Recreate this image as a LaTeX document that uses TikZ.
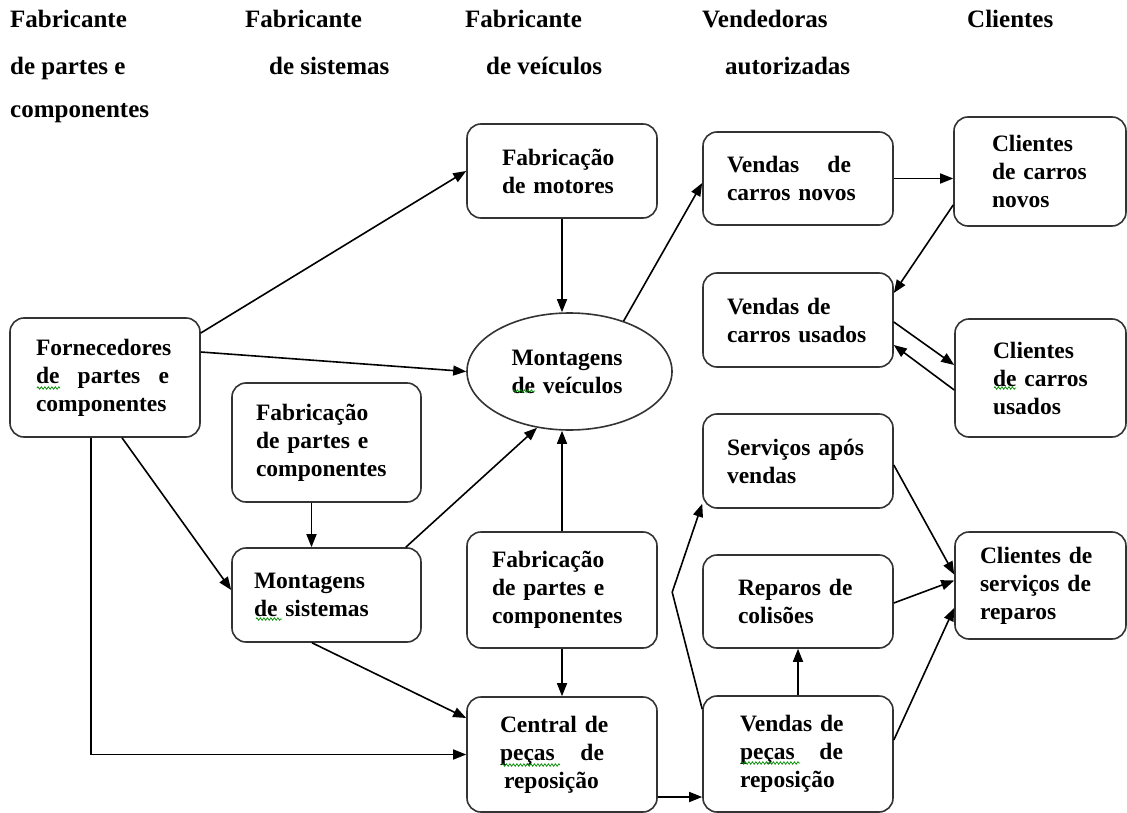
\documentclass[tikz,border=0pt]{standalone}
\usepackage{fontspec}
\setmainfont{Liberation Serif}
\usetikzlibrary{arrows.meta,calc,shapes.geometric,decorations.pathmorphing}

\tikzset{
  box/.style={draw=black!80, line width=1.6pt, rounded corners=14pt,
    minimum width=190pt, align=left, inner sep=0pt,
    font=\bfseries\fontsize{23.5}{28}\selectfont},
  oval/.style={draw=black!80, line width=1.6pt, ellipse,
    minimum width=205pt, minimum height=117pt, align=left, inner sep=0pt,
    font=\bfseries\fontsize{23.5}{28}\selectfont},
  head/.style={anchor=base west, inner sep=0pt,
    font=\bfseries\fontsize{25}{30}\selectfont},
  link/.style={line width=1.6pt, -{Triangle[length=13pt,width=10pt]}},
  squiggle/.style={draw=green!55!black, line width=0.7pt,
    decorate, decoration={zigzag, amplitude=1.3pt, segment length=3.5pt}},
}

\begin{document}
\begin{tikzpicture}[x=1pt,y=-1pt]
\useasboundingbox (0,0) rectangle (1127,813);

% column headings
\node[head] (h1a) at (10,28)  {Fabricante};
\node[head] (h1b) at (10,75)  {de partes e};
\node[head] (h1c) at (10,118) {componentes};
\node[head] (h2a) at (245,28) {Fabricante};
\node[head] (h2b) at (269,75) {de sistemas};
\node[head] (h3a) at (465,28) {Fabricante};
\node[head] (h3b) at (486,75) {de veículos};
\node[head] (h4a) at (702,28) {Vendedoras};
\node[head] (h4b) at (725,75) {autorizadas};
\node[head] (h5a) at (967,28) {Clientes};

% parts and systems suppliers
\node[box, minimum height=119pt, text width=138pt] (forn) at (105,377.5)
  {Fornecedores\\ \makebox[133pt][s]{de\hfill partes\hfill e}\\ componentes};
\node[box, minimum width=189pt, minimum height=119pt, text width=141pt] (fabL) at (326.5,442.5)
  {Fabricação\\ de partes e\\ componentes};
\node[box, minimum width=189pt, minimum height=94pt, text width=145pt] (monS) at (326.5,595)
  {Montagens\\ de sistemas};

% vehicle manufacturer
\node[box, minimum height=94pt, text width=120pt] (fabM) at (562,171)
  {Fabricação\\ de motores};
\node[oval, text width=116pt] (monV) at (569.5,371.5)
  {Montagens\\ de veículos};
\node[box, minimum height=116pt, text width=140pt] (fabP) at (562,590)
  {Fabricação\\ de partes e\\ componentes};
\node[box, minimum height=115pt, text width=124pt] (cent) at (562,754.5)
  {Central de\\ \makebox[104pt][s]{peças\hfill de}\\ \hspace*{4pt}reposição};

% authorised dealers
\node[box, minimum height=93pt, text width=142pt] (vNov) at (798,178.5)
  {\makebox[124pt][s]{Vendas\hfill de}\\ carros novos};
\node[box, minimum height=94pt, text width=142pt] (vUs) at (798,320)
  {Vendas de\\ carros usados};
\node[box, minimum height=94pt, text width=142pt] (serv) at (798,461)
  {Serviços após\\ vendas};
\node[box, minimum height=93pt, text width=120pt] (rep) at (798,601.5)
  {Reparos de\\ colisões};
\node[box, minimum height=116pt, text width=116pt] (vPec) at (798,754)
  {Vendas de\\ \makebox[103pt][s]{peças\hfill de}\\ reposição};

% customers
\node[box, minimum width=172pt, minimum height=109pt, text width=96pt] (cNov) at (1040,171.5)
  {Clientes\\ de carros\\ novos};
\node[box, minimum width=171pt, minimum height=118pt, text width=95pt] (cUs) at (1040.5,378)
  {Clientes\\ de carros\\ usados};
\node[box, minimum width=171pt, minimum height=107pt, text width=121pt] (cServ) at (1040.5,585.5)
  {Clientes de\\ serviços de\\ reparos};

% spell-check marks under some words
\draw[squiggle] (37,388) -- (60,388);
\draw[squiggle] (256,619) -- (282,619);
\draw[squiggle] (513,391) -- (535,391);
\draw[squiggle] (994,388) -- (1016,388);
\draw[squiggle] (502,765) -- (560,765);
\draw[squiggle] (741,763) -- (800,763);

% flows
\draw[link] ($(forn.east)+(0,-44.5)$) -- (fabM.west);
\draw[link] ($(forn.east)+(0,-25.5)$) -- (monV.west);
\draw[link] ($(forn.south)+(17,0)$) -- ($(monS.west)+(0,-5)$);
\draw[link] ($(forn.south)+(-14,0)$) |- (cent.west);
\draw[link] ($(fabL.south)+(-15,0)$) -- ($(monS.north)+(-15,0)$);
\draw[link] ($(monS.north east)+(-16,0)$) -- (monV.240);
\draw[link] ($(monS.south)+(-14.5,0)$) -- ($(cent.west)+(0,-36.5)$);
\draw[link] (fabM.south) -- (fabM.south |- monV.north);
\draw[link] (fabP.north) -- (fabP.north |- monV.south);
\draw[link] (fabP.south) -- (cent.north);
\draw[link] (monV.43) -- ($(vNov.west)+(0,4.5)$);
\draw[link] (vNov.east) -- (vNov.east -| cNov.west);
\draw[link] ($(cNov.west)+(0,33.5)$) -- ($(vUs.east)+(0,-27)$);
\draw[link] ($(vUs.east)+(0,2)$) -- ($(cUs.west)+(0,-13)$);
\draw[link] ($(cUs.west)+(0,12)$) -- ($(vUs.east)+(0,25)$);
\draw[link] ($(cent.east)+(0,42.5)$) -- ($(vPec.west)+(0,43)$);
\draw[link] ($(vPec.north west)+(0,14)$) -- ++(-30,-117) -- ($(serv.south west)+(0,-5)$);
\draw[link] (vPec.north) -- (rep.south);
\draw[link] ($(serv.east)+(0,4)$) -- ($(cServ.west)+(0,-11)$);
\draw[link] ($(rep.east)+(0,1.5)$) -- ($(cServ.west)+(0,-5)$);
\draw[link] ($(vPec.east)+(0,-14)$) -- ($(cServ.west)+(0,22.5)$);
\end{tikzpicture}
\end{document}
